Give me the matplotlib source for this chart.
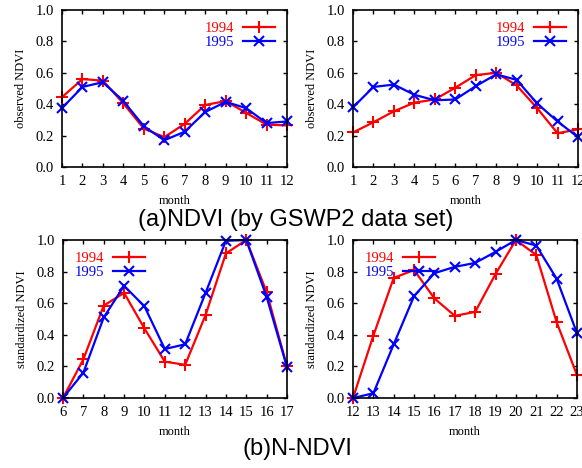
import matplotlib
matplotlib.use("Agg")
import matplotlib.pyplot as plt

months_a = [1, 2, 3, 4, 5, 6, 7, 8, 9, 10, 11, 12]
a1_1994 = [0.445, 0.56, 0.55, 0.405, 0.245, 0.19, 0.275, 0.395, 0.42, 0.345, 0.27, 0.265]
a1_1995 = [0.375, 0.51, 0.54, 0.42, 0.26, 0.17, 0.225, 0.35, 0.415, 0.375, 0.28, 0.29]
a2_1994 = [0.22, 0.285, 0.355, 0.41, 0.43, 0.505, 0.585, 0.60, 0.52, 0.375, 0.215, 0.24]
a2_1995 = [0.38, 0.51, 0.525, 0.46, 0.425, 0.43, 0.515, 0.59, 0.555, 0.405, 0.29, 0.19]

months_b1 = [6, 7, 8, 9, 10, 11, 12, 13, 14, 15, 16, 17]
b1_1994 = [0.0, 0.245, 0.585, 0.665, 0.44, 0.23, 0.21, 0.525, 0.915, 1.0, 0.67, 0.2]
b1_1995 = [0.0, 0.16, 0.51, 0.71, 0.58, 0.31, 0.34, 0.665, 0.995, 1.0, 0.64, 0.195]

months_b2 = [12, 13, 14, 15, 16, 17, 18, 19, 20, 21, 22, 23]
b2_1994 = [0.0, 0.395, 0.76, 0.81, 0.63, 0.52, 0.545, 0.785, 1.0, 0.905, 0.48, 0.145]
b2_1995 = [0.0, 0.03, 0.34, 0.645, 0.79, 0.83, 0.855, 0.925, 1.0, 0.965, 0.755, 0.41]

yticks = [0.0, 0.2, 0.4, 0.6, 0.8, 1.0]

W, H = 582, 468
fig = plt.figure(figsize=(W / 100, H / 100), dpi=100)

serif = ['Liberation Serif', 'DejaVu Serif']
sans = ['Liberation Sans', 'DejaVu Sans']


def box(x0, y0, x1, y1):
    return [x0 / W, 1 - y1 / H, (x1 - x0) / W, (y1 - y0) / H]


panels = [
    (box(62, 10, 287, 167), months_a, a1_1994, a1_1995, 'observed NDVI', 'upper right'),
    (box(353, 10, 578, 167), months_a, a2_1994, a2_1995, 'observed NDVI', 'upper right'),
    (box(63, 240, 287, 398), months_b1, b1_1994, b1_1995, 'standardized NDVI', 'upper left'),
    (box(353, 240, 577, 398), months_b2, b2_1994, b2_1995, 'standardized NDVI', 'upper left'),
]

for rect, xs, y94, y95, ylab, loc in panels:
    ax = fig.add_axes(rect)
    ax.plot(xs, y94, color='#ff0000', lw=1.6, marker='+', ms=8.5, mew=1.5, label='1994', clip_on=False)
    ax.plot(xs, y95, color='#0000ff', lw=1.6, marker='x', ms=7, mew=1.5, label='1995', clip_on=False)
    ax.set_xlim(xs[0], xs[-1])
    ax.set_ylim(0, 1)
    ax.set_xticks(xs)
    ax.set_yticks(yticks)
    ax.set_yticklabels([f'{v:.1f}' for v in yticks])
    ax.tick_params(direction='in', length=3, width=1, top=True, right=True, pad=6)
    for lab in ax.get_xticklabels() + ax.get_yticklabels():
        lab.set_fontfamily(serif)
        lab.set_fontsize(10.5)
    for s in ax.spines.values():
        s.set_linewidth(1.2)
    ax.set_xlabel('month', fontfamily=serif, fontsize=9, labelpad=5)
    ax.set_ylabel(ylab, fontfamily=serif, fontsize=9, labelpad=6)
    leg = ax.legend(loc=loc, frameon=False, markerfirst=False, prop={'family': serif, 'size': 10.5},
                    handlelength=2.2, borderaxespad=0.6, labelspacing=0.05, handletextpad=0.6,
                    borderpad=0.2)
    for t, c in zip(leg.get_texts(), ['#ff0000', '#0000ff']):
        t.set_color(c)

fig.text(296 / W, 1 - 220 / H, '(a)NDVI (by GSWP2 data set)', ha='center', va='center',
         fontfamily=sans, fontsize=17)
fig.text(297 / W, 1 - 449 / H, '(b)N-NDVI', ha='center', va='center',
         fontfamily=sans, fontsize=17)

fig.savefig('out.png', dpi=100)
